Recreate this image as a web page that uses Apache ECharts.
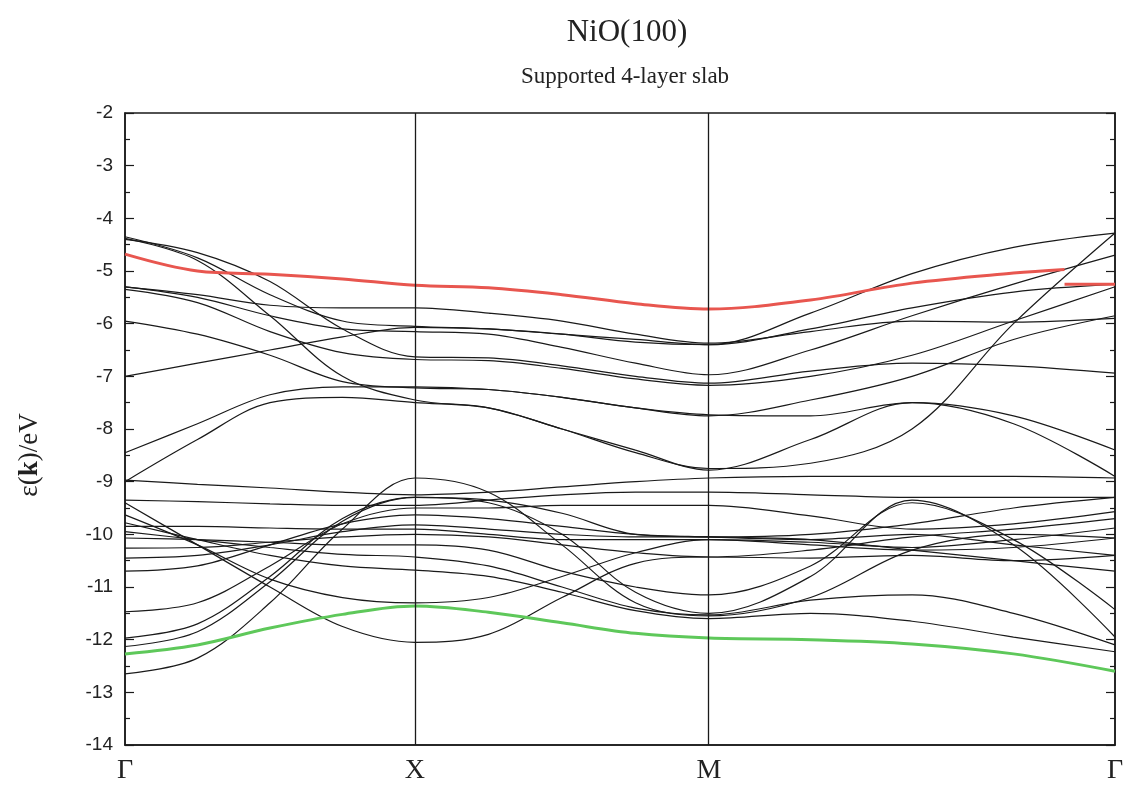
<!DOCTYPE html>
<html>
<head>
<meta charset="utf-8">
<title>NiO(100) band structure</title>
<script src="https://cdn.jsdelivr.net/npm/echarts@6.0.0/dist/echarts.min.js"></script>
<style>
  html, body { margin: 0; padding: 0; background: #fff; }
  #chart { width: 1133px; height: 785px; }
</style>
</head>
<body>
<div id="chart"></div>
<script>
// k-path: Γ -> X -> M -> Γ
var kpath = [0, 0.25, 0.5, 0.75, 1, 1.2535, 1.507, 1.7605, 2.014, 2.364, 2.714, 3.064, 3.414];
var kTicks = [0, 1, 2.014, 3.414];
var kNames = ['Γ', 'X', 'M', 'Γ'];

// red band (split near the end)
var redBand = [-4.68, -5.0, -5.06, -5.15, -5.27, -5.32, -5.45, -5.62, -5.72, -5.55, -5.23, -5.04];
var redEndX = 3.24, redEndY = -4.97;
var redTailX = [3.24, 3.414];
var redTailY = [-5.25, -5.25];

// green band
var greenBand = [-12.27, -12.1, -11.78, -11.52, -11.36, -11.48, -11.68, -11.88, -11.97, -12.0, -12.08, -12.27, -12.6];

// black bands, values at kpath points
var blackBands = [
  [-4.35, -4.75, -5.45, -5.95, -6.05, -6.1, -6.2, -6.35, -6.4, -5.8, -5.05, -4.55, -4.28],
  [-4.4, -4.65, -5.2, -6.1, -6.63, -6.65, -6.8, -7.0, -7.13, -6.9, -6.75, -6.8, -6.94],
  [-4.38, -4.8, -5.85, -7.0, -7.45, -7.6, -8.0, -8.45, -8.75, -8.65, -8.0, -6.0, -4.28],
  [-5.3, -5.45, -5.65, -5.7, -5.7, -5.8, -5.95, -6.2, -6.37, -6.15, -5.95, -5.97, -5.9],
  [-5.3, -5.5, -5.85, -6.1, -6.15, -6.2, -6.45, -6.75, -6.97, -6.5, -5.85, -5.25, -4.7],
  [-5.35, -5.6, -6.15, -6.55, -6.68, -6.7, -6.85, -7.05, -7.17, -7.0, -6.6, -5.95, -5.3],
  [-5.95, -6.2, -6.6, -7.1, -7.22, -7.25, -7.4, -7.6, -7.75, -7.45, -7.0, -6.3, -5.85],
  [-7.0, -6.75, -6.5, -6.25, -6.07, -6.1, -6.2, -6.3, -6.4, -6.1, -5.7, -5.4, -5.25],
  [-8.45, -7.9, -7.35, -7.2, -7.2, -7.25, -7.4, -7.6, -7.73, -7.75, -7.5, -7.75, -8.4],
  [-9.0, -8.2, -7.5, -7.4, -7.5, -7.6, -8.0, -8.4, -8.78, -8.2, -7.5, -7.9, -8.9],
  [-8.97, -9.05, -9.12, -9.2, -9.25, -9.2, -9.1, -9.0, -8.93, -8.9, -8.9, -8.9, -8.93],
  [-9.4, -10.2, -11.0, -11.75, -12.05, -11.9, -11.2, -10.55, -10.43, -10.45, -10.4, -10.5, -10.4],
  [-9.63, -10.2, -10.85, -11.2, -11.3, -11.2, -10.8, -10.35, -10.1, -10.2, -10.3, -10.25, -10.07],
  [-9.78, -10.1, -10.4, -10.6, -10.68, -10.8, -11.1, -11.45, -11.6, -11.5, -11.65, -11.95, -12.23],
  [-9.95, -10.1, -10.25, -10.38, -10.43, -10.6, -11.0, -11.4, -11.53, -11.25, -11.15, -11.5, -12.1],
  [-10.07, -10.1, -10.15, -10.2, -10.2, -10.3, -10.7, -11.0, -11.15, -10.6, -9.4, -10.1, -11.43],
  [-10.26, -10.25, -10.15, -10.05, -10.0, -10.05, -10.2, -10.35, -10.43, -10.3, -10.05, -9.9, -9.7],
  [-10.45, -10.4, -10.2, -9.95, -9.82, -9.9, -10.0, -10.05, -10.05, -10.0, -9.8, -9.5, -9.3],
  [-10.7, -10.6, -10.2, -9.8, -9.63, -9.7, -9.85, -10.0, -10.05, -10.1, -10.0, -10.2, -10.4],
  [-11.47, -11.3, -10.6, -9.8, -9.5, -9.5, -9.45, -9.45, -9.45, -9.65, -9.9, -9.8, -9.57],
  [-11.97, -11.7, -10.8, -9.7, -9.3, -9.4, -10.0, -11.1, -11.5, -10.8, -9.35, -10.2, -11.95],
  [-12.13, -11.85, -10.9, -9.75, -9.3, -9.35, -9.6, -10.0, -10.05, -10.1, -10.3, -10.5, -10.7],
  [-12.65, -12.35, -11.3, -9.9, -8.93, -9.2, -10.2, -11.3, -11.55, -11.2, -10.3, -10.0, -10.07],
  [-9.35, -9.38, -9.42, -9.45, -9.45, -9.35, -9.25, -9.2, -9.2, -9.25, -9.3, -9.3, -9.3],
  [-9.85, -9.85, -9.88, -9.9, -9.9, -10.0, -10.1, -10.1, -10.1, -10.15, -10.25, -10.1, -9.88]
];

function pairs(xs, ys) {
  var out = [];
  for (var i = 0; i < ys.length; i++) out.push([xs[i], ys[i]]);
  return out;
}

var chart = echarts.init(document.getElementById('chart'));
var series = [];

for (var b = 0; b < blackBands.length; b++) {
  series.push({
    type: 'line',
    data: pairs(kpath, blackBands[b]),
    smooth: 0.35,
    showSymbol: false,
    silent: true,
    lineStyle: { color: '#1a1a1a', width: 1.2 },
    z: 2
  });
}

var redData = pairs(kpath, redBand);
redData.push([redEndX, redEndY]);
series.push({
  type: 'line', data: redData, smooth: 0.35, showSymbol: false, silent: true,
  lineStyle: { color: '#e8564f', width: 3 }, z: 3
});
series.push({
  type: 'line', data: pairs(redTailX, redTailY), showSymbol: false, silent: true,
  lineStyle: { color: '#e8564f', width: 3 }, z: 3
});
series.push({
  type: 'line', data: pairs(kpath, greenBand), smooth: 0.35, showSymbol: false, silent: true,
  lineStyle: { color: '#5ec85a', width: 3 }, z: 3,
  markLine: {
    silent: true,
    symbol: 'none',
    label: { show: false },
    lineStyle: { color: '#1a1a1a', width: 1.3, type: 'solid' },
    data: [{ xAxis: kTicks[1] }, { xAxis: kTicks[2] }]
  }
});

var option = {
  backgroundColor: '#fff',
  animation: false,
  title: [
    {
      text: 'NiO(100)', left: 622, top: 12, textAlign: 'center',
      textStyle: { fontFamily: 'Liberation Serif', fontSize: 31, fontWeight: 'normal', color: '#222' }
    },
    {
      text: 'Supported 4-layer slab', left: 620, top: 60, textAlign: 'center',
      textStyle: { fontFamily: 'Liberation Serif', fontSize: 23, fontWeight: 'normal', color: '#222' }
    }
  ],
  // y axis title, drawn rotated
  graphic: [{
    type: 'text',
    x: 30, y: 455,
    rotation: Math.PI / 2,
    style: {
      text: '{a|ε(}{b|k}{a|)/eV}',
      align: 'center', verticalAlign: 'middle',
      rich: {
        a: { fontFamily: 'Liberation Serif', fontSize: 27, fill: '#222' },
        b: { fontFamily: 'Liberation Serif', fontSize: 27, fontWeight: 'bold', fill: '#222' }
      }
    }
  }],
  grid: {
    left: 125, right: 18, top: 113, bottom: 40,
    show: true, borderColor: '#1a1a1a', borderWidth: 1.5, backgroundColor: 'transparent'
  },
  xAxis: {
    type: 'value',
    min: 0, max: kTicks[3],
    axisLine: { show: true, lineStyle: { color: '#1a1a1a', width: 1.5 } },
    axisTick: { show: false },
    splitLine: { show: false },
    axisLabel: {
      customValues: kTicks,
      margin: 12,
      fontFamily: 'Liberation Serif', fontSize: 28, color: '#222',
      formatter: function (v) {
        var i = kTicks.indexOf(v);
        return i >= 0 ? kNames[i] : '';
      }
    }
  },
  yAxis: [
    {
      type: 'value', min: -14, max: -2, interval: 1, position: 'left',
      axisLine: { show: true, lineStyle: { color: '#1a1a1a', width: 1.5 } },
      axisTick: { show: true, inside: true, length: 9, lineStyle: { color: '#1a1a1a', width: 1.2 } },
      minorTick: { show: true, splitNumber: 2, length: 5, lineStyle: { color: '#1a1a1a', width: 1.2 } },
      splitLine: { show: false },
      axisLabel: { margin: 12, fontFamily: 'Liberation Sans', fontSize: 19, color: '#222' }
    },
    {
      type: 'value', min: -14, max: -2, interval: 1, position: 'right',
      axisLine: { show: true, lineStyle: { color: '#1a1a1a', width: 1.5 } },
      axisTick: { show: true, inside: true, length: 9, lineStyle: { color: '#1a1a1a', width: 1.2 } },
      minorTick: { show: true, splitNumber: 2, length: 5, lineStyle: { color: '#1a1a1a', width: 1.2 } },
      splitLine: { show: false },
      axisLabel: { show: false }
    }
  ],
  series: series
};

chart.setOption(option);
</script>
</body>
</html>
